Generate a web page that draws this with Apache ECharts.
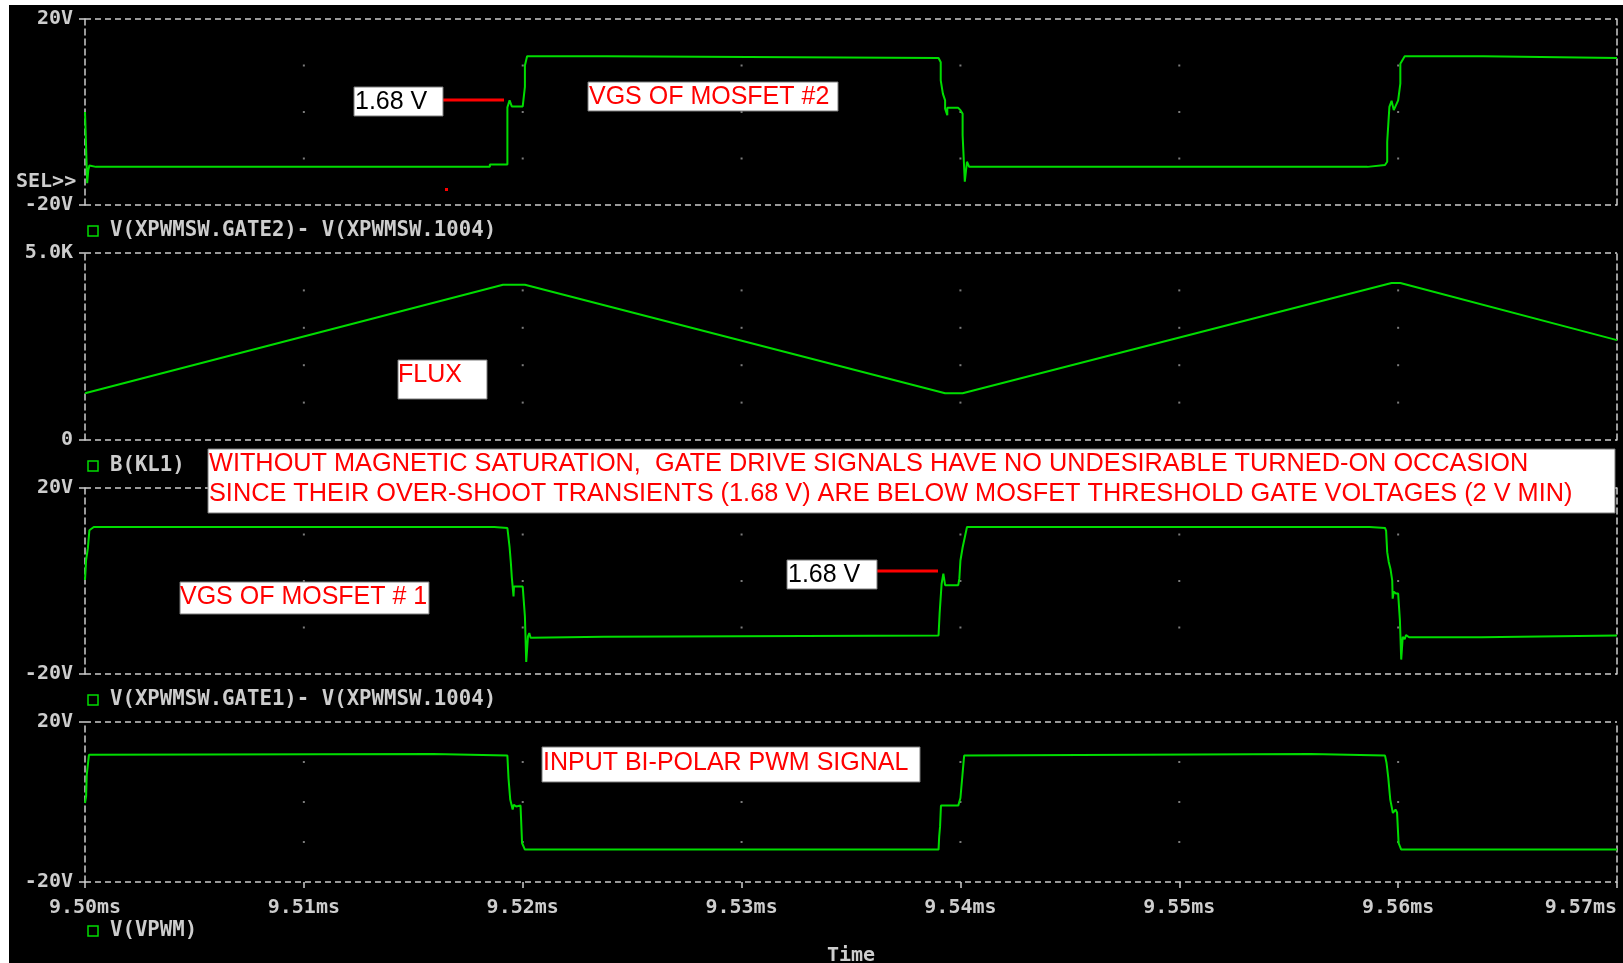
<!DOCTYPE html>
<html>
<head>
<meta charset="utf-8">
<title>Gate drive waveforms</title>
<script src="https://cdn.jsdelivr.net/npm/echarts@6/dist/echarts.min.js"></script>
<style>
  html, body { margin: 0; padding: 0; background: #fff; }
  #chart { width: 1623px; height: 963px; }
</style>
</head>
<body>
<div id="chart"></div>
<script>
// time axis in ms
const xMin = 9.50;
const xMax = 9.57;
const xStep = 0.01;

// VGS of MOSFET #2 : V(XPWMSW.GATE2)- V(XPWMSW.1004)
const vgs2Time = [9.5000, 9.5001, 9.50015, 9.5002, 9.5005, 9.5185, 9.5185, 9.5193, 9.5193, 9.5194,
  9.5195, 9.5200, 9.5201, 9.5201, 9.5202, 9.5238, 9.5238, 9.5390, 9.5391, 9.5391,
  9.5392, 9.5393, 9.5393, 9.5394, 9.5394, 9.5399, 9.5400, 9.5401, 9.5401, 9.5402,
  9.5403, 9.5404, 9.5586, 9.5586, 9.5594, 9.5595, 9.5595, 9.5596, 9.5597, 9.5598,
  9.5600, 9.5601, 9.5601, 9.5603, 9.5639, 9.5639, 9.5700];
const vgs2Volt = [0.0, -15.3, -12.5, -11.5, -11.8, -11.8, -11.3, -11.3, 1.0, 2.5,
  1.2, 1.2, 5.4, 10.0, 12.0, 12.0, 11.6, 11.6, 10.7, 6.8,
  3.9, 2.5, 0.7, -0.7, 0.9, 0.9, 0.4, -0.4, -5.0, -15.0,
  -10.7, -11.8, -11.8, -11.4, -11.4, -10.7, -6.4, 1.1, 2.4, 0.4,
  2.5, 6.1, 10.4, 12.0, 12.0, 11.6, 11.6];

// FLUX : B(KL1)
const fluxTime = [9.5000, 9.5191, 9.5201, 9.5393, 9.5401, 9.5597, 9.5601, 9.5700];
const fluxVal = [1250, 4150, 4150, 1250, 1250, 4200, 4200, 2670];

// VGS of MOSFET #1 : V(XPWMSW.GATE1)- V(XPWMSW.1004)
const vgs1Time = [9.5000, 9.50005, 9.50013, 9.5002, 9.5004, 9.5187, 9.5187, 9.5193, 9.5194, 9.51946,
  9.5195, 9.51958, 9.5196, 9.5200, 9.5201, 9.52016, 9.52024, 9.5203, 9.52036, 9.5204,
  9.5237, 9.5237, 9.5390, 9.53905, 9.53914, 9.53922, 9.5393, 9.5399, 9.53995, 9.5400,
  9.5401, 9.5403, 9.5587, 9.5587, 9.5594, 9.55945, 9.5595, 9.55957, 9.55965, 9.55973,
  9.55975, 9.5598, 9.5599, 9.5600, 9.56008, 9.56014, 9.56021, 9.5603, 9.56036, 9.5605,
  9.5638, 9.5638, 9.5700];
const vgs1Volt = [0.2, 4.5, 7.0, 10.9, 11.6, 11.6, 11.4, 11.4, 7.3, 3.8,
  0.9, -3.3, -1.2, -1.2, -7.6, -17.4, -11.9, -11.2, -12.2, -12.0,
  -12.0, -11.7, -11.7, -6.9, -0.6, 1.6, -0.9, -0.9, 0.5, 4.4,
  7.2, 11.6, 11.6, 11.4, 11.4, 10.8, 6.2, 4.1, 2.6, 0.1,
  -3.8, -2.3, -2.7, -2.7, -8.4, -16.9, -12.0, -12.5, -11.6, -12.1,
  -12.1, -11.7, -11.7];

// input bipolar PWM : V(VPWM)
const vpwmTime = [9.5000, 9.50005, 9.50008, 9.50013, 9.50018, 9.5002, 9.5159, 9.5159, 9.5193, 9.51935,
  9.51943, 9.51954, 9.51959, 9.5197, 9.5199, 9.51997, 9.5201, 9.5390, 9.53903, 9.53907,
  9.53911, 9.5399, 9.5400, 9.5401, 9.54017, 9.54026, 9.5560, 9.5560, 9.5594, 9.55947,
  9.55955, 9.55964, 9.55976, 9.55988, 9.55995, 9.5600, 9.56002, 9.56014, 9.5700];
const vpwmVolt = [-0.25, 1.4, 6.8, 7.25, 11.8, 12.0, 12.0, 11.6, 11.6, 6.0,
  0.6, -1.9, -0.7, -1.1, -0.9, -10.25, -11.9, -11.9, -8.6, -6.1,
  -0.9, -0.9, 1.0, 7.25, 11.6, 12.0, 12.0, 11.6, 11.6, 9.75,
  6.0, 0.6, -2.75, -1.9, -2.6, -2.6, -10.25, -11.9, -11.9];

// grid dot positions
const dotTimes = [9.51, 9.52, 9.53, 9.54, 9.55, 9.56];
const dotVolts = [-10, 0, 10];
const dotFlux = [1000, 2000, 3000, 4000];

const legendNames = ['V(XPWMSW.GATE2)- V(XPWMSW.1004)', 'B(KL1)',
  'V(XPWMSW.GATE1)- V(XPWMSW.1004)', 'V(VPWM)'];

const gray = '#cdcdcd';
const green = '#00dc00';
const mono = "'DejaVu Sans Mono', monospace";
const sans = "'Liberation Sans', Arial, sans-serif";

const panels = [
  { top: 19, height: 186, min: -20, max: 20, time: vgs2Time, vals: vgs2Volt, dots: dotVolts, legendY: 231 },
  { top: 253, height: 187, min: 0, max: 5000, time: fluxTime, vals: fluxVal, dots: dotFlux, legendY: 466 },
  { top: 488, height: 186, min: -20, max: 20, time: vgs1Time, vals: vgs1Volt, dots: dotVolts, legendY: 700 },
  { top: 722, height: 160, min: -20, max: 20, time: vpwmTime, vals: vpwmVolt, dots: dotVolts, legendY: 931 }
];

const dash = { color: gray, type: [6, 4], width: 1.5 };

const grids = [];
const xAxes = [];
const yAxes = [];
const series = [];

panels.forEach((p, i) => {
  grids.push({ left: 85, right: 6, top: p.top, height: p.height, outerBoundsMode: 'none', containLabel: false });
  const last = i === panels.length - 1;
  xAxes.push({
    type: 'value', gridIndex: i, min: xMin, max: xMax, interval: xStep,
    axisLine: { show: false, onZero: false },
    axisTick: { show: last, length: 6, lineStyle: { color: gray, width: 1.5 } },
    axisLabel: {
      show: last, color: gray, fontFamily: mono, fontWeight: 'bold', fontSize: 20, margin: 16,
      alignMaxLabel: 'right',
      formatter: (v) => v.toFixed(2) + 'ms'
    },
    splitLine: { show: false },
    name: last ? 'Time' : '',
    nameLocation: 'middle', nameGap: 64,
    nameTextStyle: { color: gray, fontFamily: mono, fontWeight: 'bold', fontSize: 20 }
  });
  yAxes.push({
    type: 'value', gridIndex: i, min: p.min, max: p.max, interval: p.max - p.min,
    axisLine: { show: true, onZero: false, lineStyle: dash },
    axisTick: { show: true, length: 6, lineStyle: { color: gray, width: 1.5 } },
    axisLabel: {
      color: gray, fontFamily: mono, fontWeight: 'bold', fontSize: 20, margin: 12,
      formatter: (v) => p.max === 5000 ? (v === 0 ? '0' : (v / 1000).toFixed(1) + 'K') : v + 'V'
    },
    splitLine: { show: true, lineStyle: dash }
  });
  yAxes.push({
    type: 'value', gridIndex: i, position: 'right', min: p.min, max: p.max, interval: p.max - p.min,
    axisLine: { show: true, onZero: false, lineStyle: dash },
    axisTick: { show: false }, axisLabel: { show: false }, splitLine: { show: false }
  });

  const dotData = [];
  dotTimes.forEach((t) => p.dots.forEach((d) => dotData.push([t, d])));
  series.push({
    type: 'scatter', xAxisIndex: i, yAxisIndex: 2 * i, data: dotData,
    symbol: 'rect', symbolSize: 2, itemStyle: { color: '#9a9a9a' }, silent: true, z: 1
  });
  series.push({
    type: 'line', name: legendNames[i], xAxisIndex: i, yAxisIndex: 2 * i,
    data: p.time.map((t, k) => [t, p.vals[k]]),
    showSymbol: false, lineStyle: { color: green, width: 2 }, z: 3
  });
});

function noteBox(x, y, w, h, text, color, size, tx, ty) {
  return [
    { type: 'rect', z: 100, shape: { x: x, y: y, width: w, height: h }, style: { fill: '#fff', stroke: '#7a7a7a', lineWidth: 1 } },
    { type: 'text', z: 101, x: tx, y: ty, style: { text: text, fill: color, font: size + 'px ' + sans, textVerticalAlign: 'middle' } }
  ];
}

const graphics = [
  { type: 'rect', shape: { x: 0, y: 0, width: 9, height: 963 }, style: { fill: '#fff' }, z: 100 },
  { type: 'rect', shape: { x: 0, y: 0, width: 1623, height: 5 }, style: { fill: '#fff' }, z: 100 },
  { type: 'text', x: 16, y: 182, style: { text: 'SEL>>', fill: gray, font: 'bold 20px ' + mono, textVerticalAlign: 'middle' } },
  { type: 'rect', shape: { x: 445, y: 188, width: 3, height: 3 }, style: { fill: '#ff0000' } },
  { type: 'line', z: 100, shape: { x1: 443, y1: 100, x2: 504, y2: 100 }, style: { stroke: '#ff0000', lineWidth: 3 } },
  { type: 'line', z: 100, shape: { x1: 877, y1: 571, x2: 938, y2: 571 }, style: { stroke: '#ff0000', lineWidth: 3 } },
  ...noteBox(354, 87, 89, 29, '1.68 V', '#000', 25, 355, 102),
  ...noteBox(787, 560, 90, 29, '1.68 V', '#000', 25, 788, 575),
  ...noteBox(588, 82, 250, 29, 'VGS OF MOSFET #2', '#ff0000', 25, 589, 97),
  ...noteBox(398, 360, 89, 39, 'FLUX', '#ff0000', 25, 398, 375),
  ...noteBox(180, 582, 249, 32, 'VGS OF MOSFET # 1', '#ff0000', 25, 180, 597),
  ...noteBox(542, 747, 378, 35, 'INPUT BI-POLAR PWM SIGNAL', '#ff0000', 25, 543, 763),
  { type: 'rect', z: 100, shape: { x: 208, y: 449, width: 1407, height: 64 }, style: { fill: '#fff', stroke: '#7a7a7a', lineWidth: 1 } },
  { type: 'text', z: 101, x: 209, y: 464, style: { text: 'WITHOUT MAGNETIC SATURATION,  GATE DRIVE SIGNALS HAVE NO UNDESIRABLE TURNED-ON OCCASION', fill: '#ff0000', font: '25.3px ' + sans, textVerticalAlign: 'middle' } },
  { type: 'text', z: 101, x: 209, y: 494, style: { text: 'SINCE THEIR OVER-SHOOT TRANSIENTS (1.68 V) ARE BELOW MOSFET THRESHOLD GATE VOLTAGES (2 V MIN)', fill: '#ff0000', font: '25.3px ' + sans, textVerticalAlign: 'middle' } }
];

panels.forEach((p, i) => {
  graphics.push({ type: 'rect', shape: { x: 88, y: p.legendY - 5, width: 10, height: 10 }, style: { fill: 'none', stroke: green, lineWidth: 1.5 } });
  graphics.push({ type: 'text', x: 110, y: p.legendY, style: { text: legendNames[i], fill: gray, font: 'bold 20.7px ' + mono, textVerticalAlign: 'middle' } });
});

const chart = echarts.init(document.getElementById('chart'));
chart.setOption({
  backgroundColor: '#000',
  animation: false,
  grid: grids,
  xAxis: xAxes,
  yAxis: yAxes,
  series: series,
  graphic: graphics
});
</script>
</body>
</html>
